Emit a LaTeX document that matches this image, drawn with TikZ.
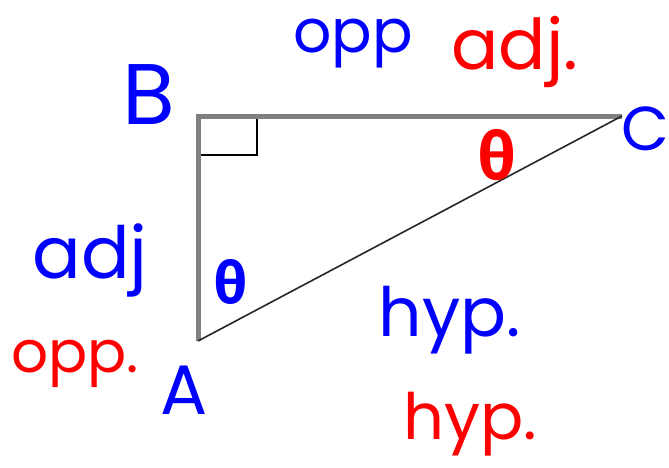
\documentclass[tikz,border=0pt]{standalone}
\usepackage{fontspec}
\setmainfont{Poppins}
\newfontfamily\greekfont{Fira Sans}
\definecolor{penblue}{RGB}{0,0,255}
\definecolor{penred}{RGB}{255,0,0}
\definecolor{edgegray}{RGB}{128,128,128}
\begin{document}
\begin{tikzpicture}[x=1pt,y=-1pt,
  leg/.style={draw=edgegray,line width=5pt},
  hypline/.style={draw=black!85,line width=1.6pt},
  marker/.style={draw=black,line width=1.5pt},
  bluelbl/.style={text=penblue,inner sep=0pt},
  redlbl/.style={text=penred,inner sep=0pt},
  sz/.style={font=\fontsize{#1}{#1}\selectfont},
  thsz/.style={font=\greekfont\bfseries\fontsize{#1}{#1}\selectfont}]
\useasboundingbox (0,0) rectangle (669,467);
\coordinate (A) at (198,341);
\coordinate (B) at (198,116);
\coordinate (C) at (622,116);
\coordinate (R) at (257,155);
\draw[marker] (B |- R) -- (R) -- (R |- B);
\draw[leg] (A) -- (B) -- (C);
\draw[hypline] (A) -- (C);
\node[bluelbl,sz=86] (lB) at (149,95) {B};
\node[bluelbl,sz=62] (lC) at (645,129) {C};
\node[bluelbl,sz=70] (lA) at (184,390) {A};
\node[bluelbl,sz=60] (topp) at (353,44) {opp};
\node[redlbl,sz=70] (tadj) at (515,52) {adj.};
\node[bluelbl,sz=72] (ladj) at (90,260) {adj};
\node[redlbl,sz=58] (lopp) at (75,364) {opp.};
\node[bluelbl,sz=68] (hyp1) at (450,320) {hyp.};
\node[redlbl,sz=64] (hyp2) at (470,424) {hyp.};
\node[redlbl,thsz=66] (th1) at (497,155) {θ};
\node[bluelbl,thsz=58] (th2) at (231,282) {θ};
\end{tikzpicture}
\end{document}
